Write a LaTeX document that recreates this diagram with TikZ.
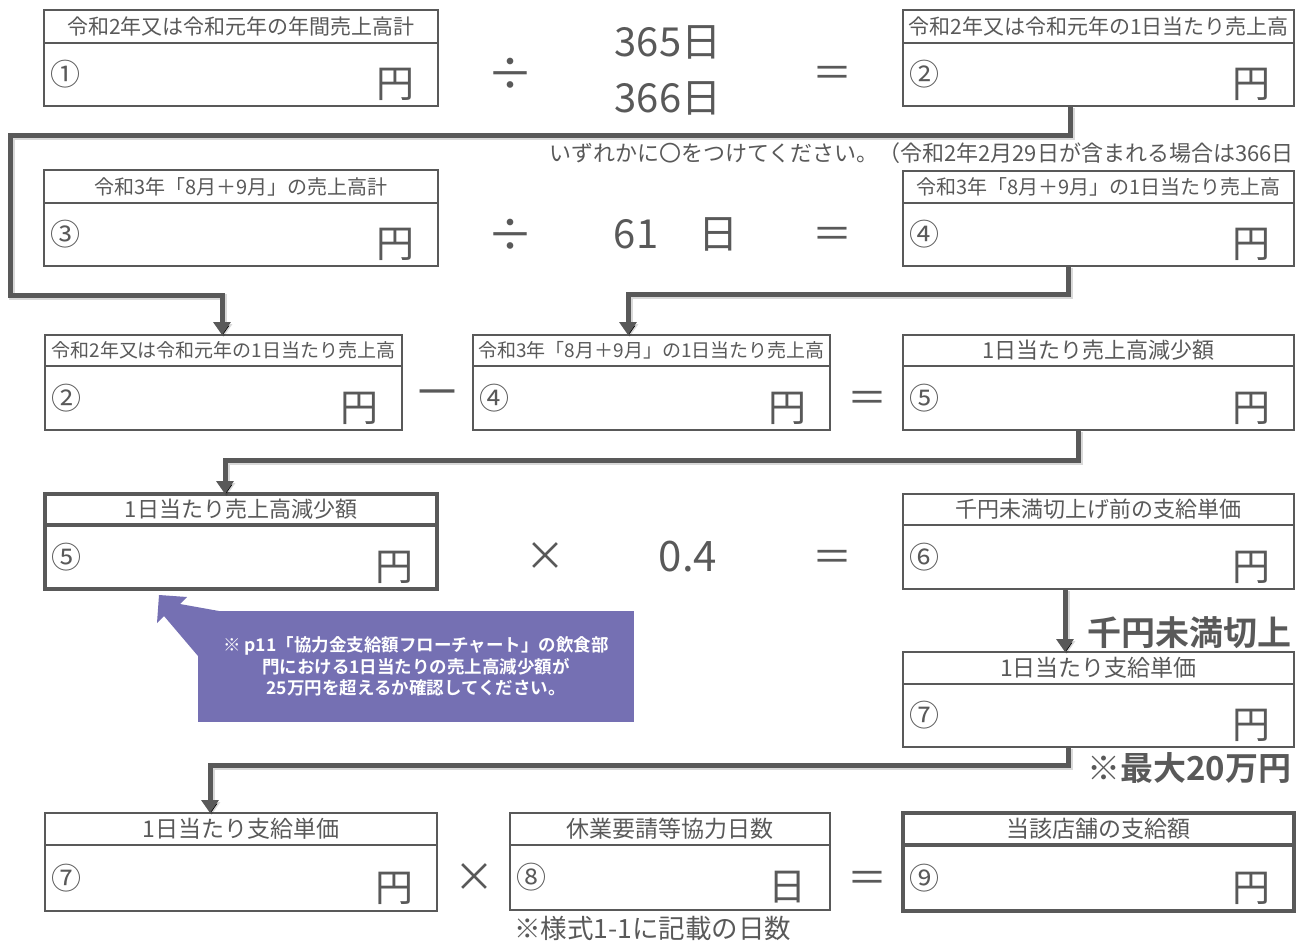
\documentclass[tikz,border=0pt]{standalone}
\usepackage{fontspec}
\setmainfont{Noto Sans CJK JP}[BoldFont={* Bold}]
\usetikzlibrary{arrows.meta}
\definecolor{ink}{HTML}{595959}
\definecolor{callout}{HTML}{7570B3}
\newcommand\hsz[1]{\fontsize{#1}{#1}\selectfont}
\newcommand\calcbox[9]{%
 \pgfmathsetmacro\cbW{#4-#2}%
 \pgfmathsetmacro\cbH{#5-#3}%
 \pgfmathsetmacro\cbB{#6-#5}%
 \node[boxpart, anchor=north west, minimum width=\cbW pt, minimum height=\cbH pt] (#1h) at (#2,#3) {};
 \node[boxpart, anchor=north west, minimum width=\cbW pt, minimum height=\cbB pt] (#1) at (#2,#5) {};
 \node (#1t) at (#1h.center) {#7};
 \node[anchor=west, numfont] (#1n) at ([xshift=6pt]#1.west) {#8};
 \node[unitfont] (#1u) at ([xshift=-43pt,yshift=-10pt]#1.east) {#9};
}
\begin{document}
\begin{tikzpicture}[x=1pt,y=-1pt,
  every node/.style={text=ink, inner sep=0pt, outer sep=0pt},
  boxpart/.style={draw=ink, line width=2.6pt, rectangle},
  thickbox/.style={boxpart/.append style={line width=4pt}},
  numfont/.style={font=\hsz{30}},
  unitfont/.style={font=\hsz{38}},
  opfont/.style={font=\hsz{40}},
  divfont/.style={font=\hsz{46}},
  conn/.style={draw=ink, line width=5pt, line join=miter,
    preaction={draw=black, draw opacity=0.15, line width=6pt, transform canvas={shift={(1.5pt,-2pt)}}}},
  arr/.style={conn, -{Triangle[width=17pt,length=13pt]}}]
\useasboundingbox (0,0) rectangle (1304,940);
\fill[white] (0,0) rectangle (1304,940);

% ---- row 1
\calcbox{b1}{44}{10}{438}{43}{106}{\hsz{21}令和2年又は令和元年の年間売上高計}{①}{円}
\calcbox{b2}{903}{10}{1294}{43}{106}{\hsz{21}令和2年又は令和元年の1日当たり売上高}{②}{円}
\node[divfont] (div1) at (510,74) {÷};
\node[font=\hsz{40}] (d365) at (668,42) {365日};
\node[font=\hsz{40}] (d366) at (668,98) {366日};
\node[opfont] (eq1) at (832,77) {＝};
\node[anchor=west, font=\hsz{22}] (note1) at (549,153) {いずれかに〇をつけてください。（令和2年2月29日が含まれる場合は366日};

% ---- row 2
\calcbox{b3}{44}{170}{438}{203}{266}{\hsz{20}令和3年「8月＋9月」の売上高計}{③}{円}
\calcbox{b4}{903}{171}{1294}{203}{266}{\hsz{20}令和3年「8月＋9月」の1日当たり売上高}{④}{円}
\node[divfont] (div2) at (510,235) {÷};
\node[font=\hsz{40}] (d61) at (676,234) {61　日};
\node[opfont] (eq2) at (832,238) {＝};

% ---- row 3
\calcbox{b2p}{45}{335}{402}{366}{430}{\hsz{19}令和2年又は令和元年の1日当たり売上高}{②}{円}
\calcbox{b4p}{473}{335}{830}{366}{430}{\hsz{19}令和3年「8月＋9月」の1日当たり売上高}{④}{円}
\calcbox{b5}{903}{335}{1294}{366}{430}{\hsz{22}1日当たり売上高減少額}{⑤}{円}
\node[font=\hsz{48}] (minus) at (437,400) {－};
\node[opfont] (eq3) at (867,402) {＝};

% ---- row 4
\begin{scope}[thickbox]
\calcbox{b5p}{45}{494}{437}{525}{589}{\hsz{22}1日当たり売上高減少額}{⑤}{円}
\end{scope}
\calcbox{b6}{903}{494}{1294}{525}{589}{\hsz{22}千円未満切上げ前の支給単価}{⑥}{円}
\node[opfont] (mul1) at (545,557) {×};
\node[font=\hsz{42}] (f04) at (688,557) {0.4};
\node[opfont] (eq4) at (832,561) {＝};

% ---- callout
\fill[callout] (198,611) -- (219,611) -- (180,604) -- (187,597) -- (159,595) -- (157,623) -- (164,616) -- (198,656) -- cycle;
\node[fill=callout, anchor=north west, minimum width=436pt, minimum height=111pt] (co) at (198,611) {};
\node[text=white, align=center, font=\bfseries\fontsize{17.5}{21.5}\selectfont] (cotext) at (co.center)
  {※ p11「協力金支給額フローチャート」の飲食部\\門における1日当たりの売上高減少額が\\25万円を超えるか確認してください。};

% ---- box 7
\calcbox{b7}{903}{652}{1294}{684}{747}{\hsz{23}1日当たり支給単価}{⑦}{円}
\node[anchor=east, font=\bfseries\hsz{34}] (kiri) at (1291,633) {千円未満切上};
\node[anchor=east, font=\bfseries\hsz{33}] (max) at (1291,768) {※最大20万円};

% ---- row 5
\calcbox{b7p}{45}{813}{437}{845}{911}{\hsz{23}1日当たり支給単価}{⑦}{円}
\calcbox{b8}{510}{813}{830}{845}{910}{\hsz{23}休業要請等協力日数}{⑧}{日}
\begin{scope}[thickbox]
\calcbox{b9}{903}{813}{1294}{845}{911}{\hsz{23}当該店舗の支給額}{⑨}{円}
\end{scope}
\node[opfont] (mul2) at (474,878) {×};
\node[opfont] (eq5) at (867,882) {＝};
\node[anchor=west, font=\hsz{26.5}] (note2) at (514,928) {※様式1-1に記載の日数};

% ---- connectors
\coordinate (k1a) at (1070,135);
\coordinate (k1b) at (10,135);
\coordinate (k1c) at (10,295);
\coordinate (k1d) at (222,295);
\draw[arr] (b2.south -| k1a) -- (k1a) -- (k1b) -- (k1c) -- (k1d) -- (b2ph.north -| k1d);

\coordinate (k2a) at (1068,294);
\coordinate (k2b) at (628,294);
\draw[arr] (b4.south -| k2a) -- (k2a) -- (k2b) -- (b4ph.north -| k2b);

\coordinate (k3a) at (1078,460);
\coordinate (k3b) at (225,460);
\draw[arr] (b5.south -| k3a) -- (k3a) -- (k3b) -- (b5ph.north -| k3b);

\coordinate (k4) at (1065,620);
\draw[arr] (b6.south -| k4) -- (b7h.north -| k4);

\coordinate (k5a) at (1068,765);
\coordinate (k5b) at (210,765);
\draw[arr] (b7.south -| k5a) -- (k5a) -- (k5b) -- (b7ph.north -| k5b);
\end{tikzpicture}
\end{document}
